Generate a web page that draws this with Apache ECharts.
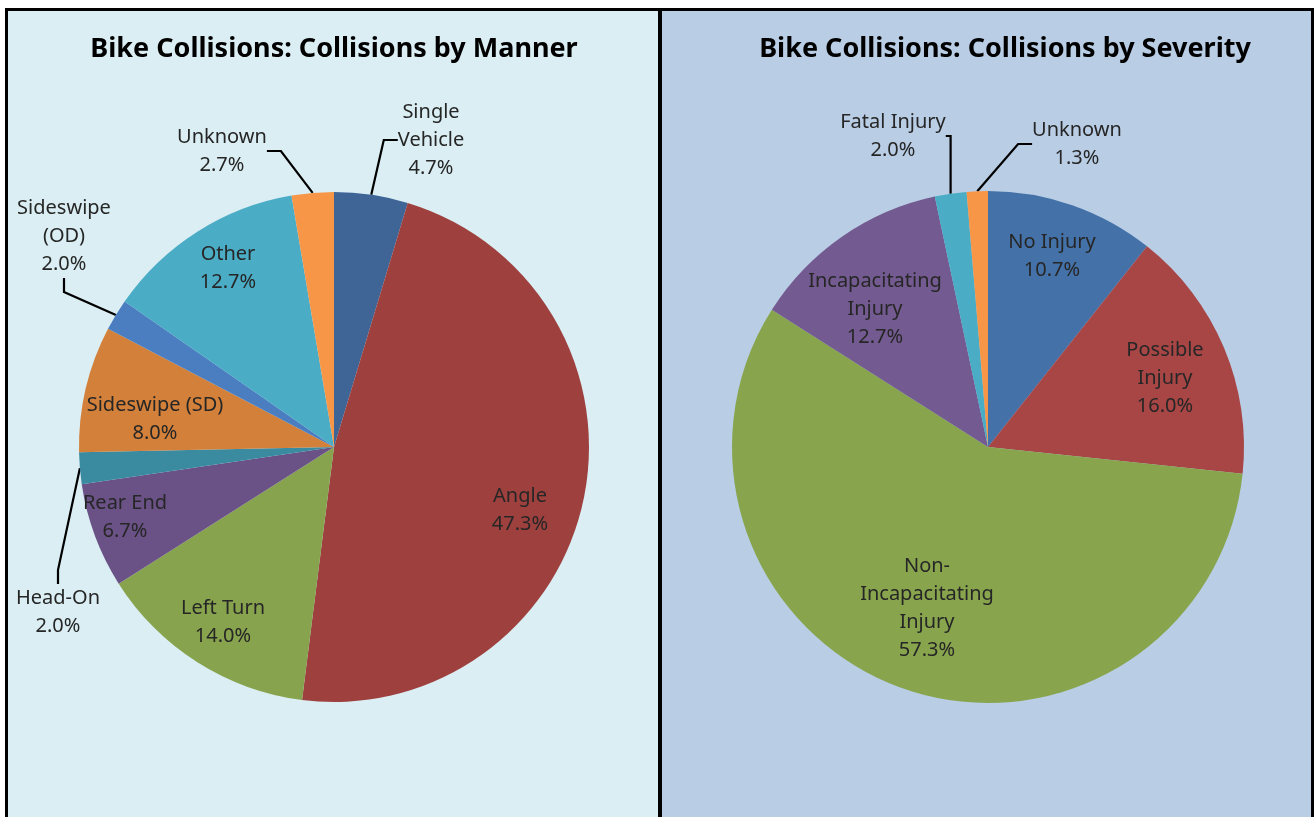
<!DOCTYPE html>
<html>
<head>
<meta charset="utf-8">
<title>Bike Collisions</title>
<script src="https://cdn.jsdelivr.net/npm/echarts@6/dist/echarts.min.js"></script>
<style>
  html, body { margin: 0; padding: 0; background: #fff; }
  #chart { width: 1314px; height: 817px; }
</style>
</head>
<body>
<div id="chart"></div>
<script>
  // collisions by manner (counts, 150 total)
  var mannerNames = ['Single Vehicle', 'Angle', 'Left Turn', 'Rear End', 'Head-On', 'Sideswipe (SD)', 'Sideswipe (OD)', 'Other', 'Unknown']
  var mannerLabels = ['Single\nVehicle', 'Angle', 'Left Turn', 'Rear End', 'Head-On', 'Sideswipe (SD)', 'Sideswipe\n(OD)', 'Other', 'Unknown']
  var mannerValues = [7, 71, 21, 10, 3, 12, 3, 19, 4]

  // collisions by severity (counts, 150 total)
  var severityNames = ['No Injury', 'Possible Injury', 'Non-Incapacitating Injury', 'Incapacitating Injury', 'Fatal Injury', 'Unknown']
  var severityLabels = ['No Injury', 'Possible\nInjury', 'Non-\nIncapacitating\nInjury', 'Incapacitating\nInjury', 'Fatal Injury', 'Unknown']
  var severityValues = [16, 24, 86, 19, 3, 2]

  var mannerColors = ['#3e6596', '#9e413e', '#88a34e', '#6a5287', '#3a8aa0', '#d2803a', '#4a7ec0', '#4bacc6', '#f79646']
  var severityColors = ['#4472a8', '#a84646', '#88a54e', '#735a90', '#4bacc6', '#f79646']

  // which labels sit outside with a leader line
  var mannerOutside = [true, false, false, false, true, false, true, false, true]
  var severityOutside = [false, false, false, false, true, true]

  // label centres, in px
  var mannerLabelPos = [[431, 140], [520, 510], [223, 622], [125, 517], [58, 612], [155, 419], [64, 236], [228, 268], [222, 151]]
  var severityLabelPos = [[1052, 256], [1165, 378], [927, 608], [875, 309], [893, 136], [1077, 144]]

  var FONT = '"Noto Sans", "Open Sans", sans-serif'

  function buildData(names, values, colors, outside) {
    return names.map(function (n, i) {
      return {
        name: n,
        value: values[i],
        itemStyle: { color: colors[i] },
        label: { position: outside[i] ? 'outside' : 'inside' },
        labelLine: { show: outside[i], length: 8, length2: 14 }
      }
    })
  }

  function pctFormatter(labels, values) {
    var total = values.reduce(function (a, b) { return a + b }, 0)
    return function (p) {
      return labels[p.dataIndex] + '\n' + (p.value / total * 100).toFixed(1) + '%'
    }
  }

  function layoutFrom(pos) {
    return function (p) {
      var xy = pos[p.dataIndex]
      return { x: xy[0], y: xy[1], align: 'center', verticalAlign: 'middle' }
    }
  }

  var pieBase = {
    type: 'pie',
    startAngle: 90,
    clockwise: true,
    avoidLabelOverlap: false,
    silent: true,
    itemStyle: { borderWidth: 0 },
    emphasis: { disabled: true },
    label: {
      color: '#262626',
      fontSize: 20,
      lineHeight: 28,
      fontFamily: FONT,
      textBorderWidth: 0
    },
    labelLine: {
      smooth: false,
      lineStyle: { color: '#000', width: 2.2 }
    }
  }

  var chart = echarts.init(document.getElementById('chart'), null, { renderer: 'canvas' })

  chart.setOption({
    animation: false,
    graphic: [
      { type: 'rect', z: -10, shape: { x: 7, y: 10, width: 652, height: 807 }, style: { fill: '#daeef3' } },
      { type: 'rect', z: -10, shape: { x: 660, y: 10, width: 652, height: 807 }, style: { fill: '#b9cde5' } },
      { type: 'line', z: 50, shape: { x1: 5, y1: 9.5, x2: 1314, y2: 9.5 }, style: { stroke: '#000', lineWidth: 3 } },
      { type: 'line', z: 50, shape: { x1: 6.5, y1: 8, x2: 6.5, y2: 817 }, style: { stroke: '#000', lineWidth: 3 } },
      { type: 'line', z: 50, shape: { x1: 660, y1: 8, x2: 660, y2: 817 }, style: { stroke: '#000', lineWidth: 4 } },
      { type: 'line', z: 50, shape: { x1: 1312.5, y1: 8, x2: 1312.5, y2: 817 }, style: { stroke: '#000', lineWidth: 3 } },
      {
        type: 'text', z: 50, x: 334, y: 49,
        style: { text: 'Bike Collisions: Collisions by Manner', fill: '#000', font: 'bold 27px ' + FONT, textAlign: 'center', textVerticalAlign: 'middle' }
      },
      {
        type: 'text', z: 50, x: 1005, y: 49,
        style: { text: 'Bike Collisions: Collisions by Severity', fill: '#000', font: 'bold 27px ' + FONT, textAlign: 'center', textVerticalAlign: 'middle' }
      }
    ],
    series: [
      Object.assign({}, pieBase, {
        name: 'Manner',
        center: [334, 447],
        radius: 255,
        label: Object.assign({}, pieBase.label, { formatter: pctFormatter(mannerLabels, mannerValues) }),
        labelLayout: layoutFrom(mannerLabelPos),
        data: buildData(mannerNames, mannerValues, mannerColors, mannerOutside)
      }),
      Object.assign({}, pieBase, {
        name: 'Severity',
        center: [988, 447],
        radius: 256,
        label: Object.assign({}, pieBase.label, { formatter: pctFormatter(severityLabels, severityValues) }),
        labelLayout: layoutFrom(severityLabelPos),
        data: buildData(severityNames, severityValues, severityColors, severityOutside)
      })
    ]
  })
</script>
</body>
</html>
